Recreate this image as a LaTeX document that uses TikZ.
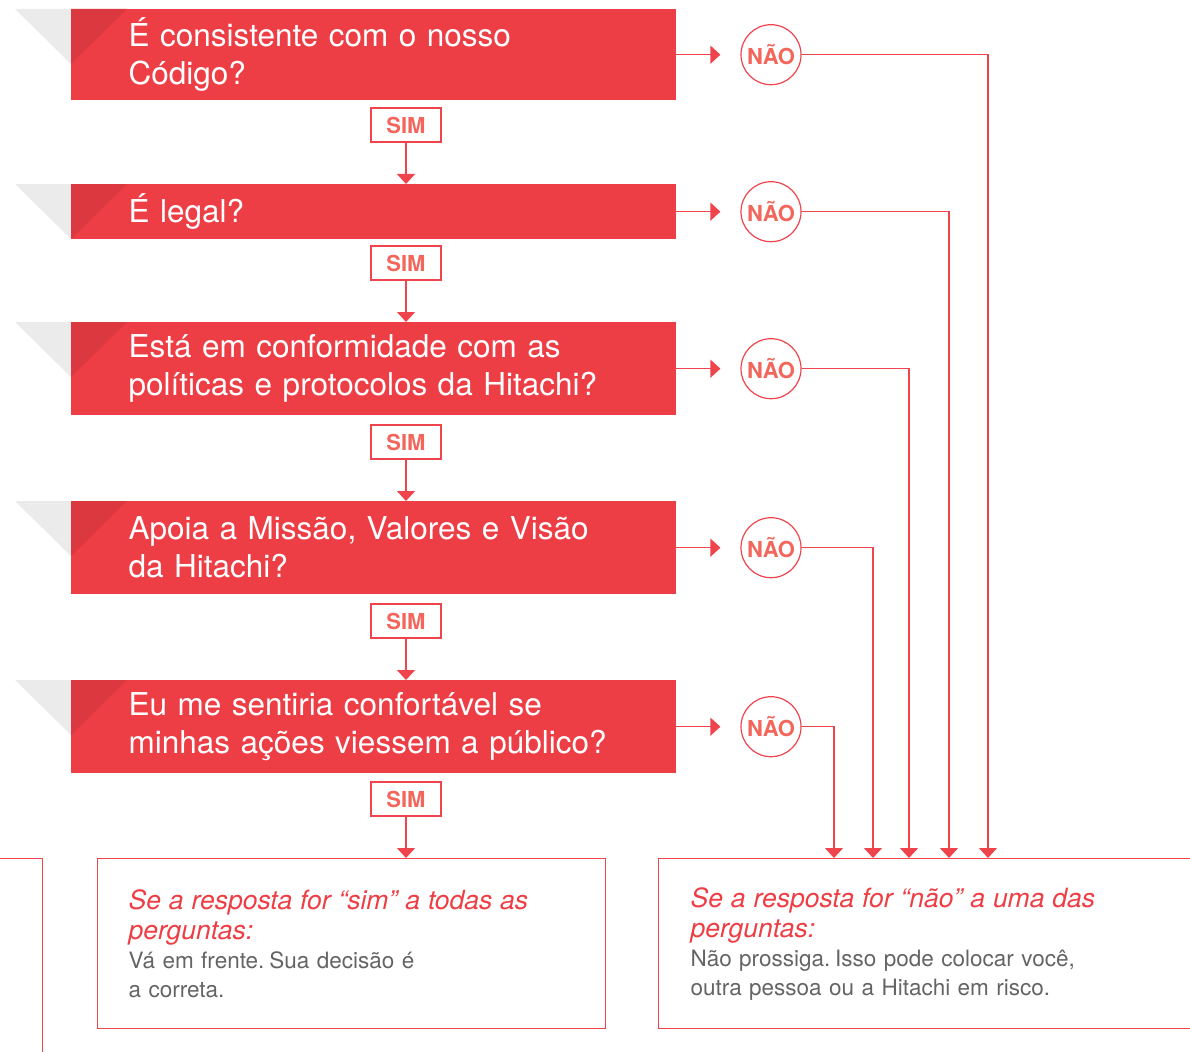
\documentclass[tikz,border=0pt]{standalone}
\usepackage{fontspec}
\setmainfont{TeX Gyre Heros}
\usetikzlibrary{positioning,arrows.meta}
\definecolor{qred}{RGB}{238,62,69}
\definecolor{qdark}{RGB}{219,56,64}
\definecolor{qgray}{RGB}{235,235,235}
\definecolor{linered}{RGB}{239,68,76}
\definecolor{simtext}{RGB}{242,102,92}
\definecolor{bodygray}{RGB}{100,100,100}
\newcommand{\headfont}{\color{qred}\itshape\fontsize{26.5}{30}\selectfont\spaceskip=0.3em plus 0.1em\relax}
\newcommand{\bodyfont}{\color{bodygray}\fontsize{22.5}{29}\selectfont\spaceskip=0.33em plus 0.1em\relax}

\begin{document}
\begin{tikzpicture}[x=1pt, y=-1pt,
  qbox/.style={fill=qred, text=white, anchor=north west, minimum width=605pt,
    inner xsep=57.5pt, text width=490pt, align=left, font=\fontsize{31.5}{38}\selectfont},
  simbox/.style={draw=linered, line width=1.2pt, text=simtext, inner sep=0pt,
    minimum width=70pt, minimum height=34pt, font=\fontsize{22}{22}\selectfont\bfseries},
  nao/.style={circle, draw=linered, line width=1.2pt, text=simtext, inner sep=0pt,
    minimum size=60pt, font=\fontsize{22}{22}\selectfont\bfseries},
  endbox/.style={draw=linered, line width=1.2pt, anchor=north west, minimum height=170pt, align=left},
  arr/.style={draw=linered, line width=1.2pt, -{Triangle[width=18pt,length=10pt]}},
]
\clip (0,0) rectangle (1190,1051);

% questions
\node[qbox, minimum height=91pt] (q1) at (71,9) {É consistente com o nosso\\Código?};
\node[qbox, minimum height=55pt] (q2) at (71,184) {É legal?};
\node[qbox, minimum height=93pt] (q3) at (71,322) {Está em conformidade com as\\políticas e protocolos da Hitachi?};
\node[qbox, minimum height=93pt] (q4) at (71,501) {Apoia a Missão, Valores e Visão\\da Hitachi?};
\node[qbox, minimum height=93pt] (q5) at (71,680) {Eu me sentiria confortável se\\minhas ações viessem a público?};
\foreach \q in {q1,q2,q3,q4,q5} {
  \fill[qgray] (\q.north west) -- ++(-56,0) -- ++(56,55) -- cycle;
  \fill[qdark] (\q.north west) -- ++(56,0) -- ++(-56,55) -- cycle;
}

% answer boxes
\node[endbox, anchor=north east, minimum width=200pt, minimum height=230pt] (prevbox) at (43,858) {};
\node[endbox, minimum width=508pt, inner xsep=31pt, text width=446pt] (yesbox) at (97,858)
  {{\headfont Se a resposta for “sim” a todas as\\perguntas:\par}
   {\bodyfont Vá em frente. Sua decisão é\\a correta.\par}};
\node[endbox, minimum width=600pt, inner xsep=32pt, text width=536pt] (nobox) at (658,858)
  {{\headfont Se a resposta for “não” a uma das\\perguntas:\par}
   {\bodyfont Não prossiga. Isso pode colocar você,\\outra pessoa ou a Hitachi em risco.\par}};

% sim
\node[simbox] (s1) at (406,125) {SIM};
\node[simbox] (s2) at (406,263) {SIM};
\node[simbox] (s3) at (406,442) {SIM};
\node[simbox] (s4) at (406,621) {SIM};
\node[simbox] (s5) at (406,799) {SIM};
\draw[arr] (s1.south) -- (s1.south |- q2.north);
\draw[arr] (s2.south) -- (s2.south |- q3.north);
\draw[arr] (s3.south) -- (s3.south |- q4.north);
\draw[arr] (s4.south) -- (s4.south |- q5.north);
\draw[arr] (s5.south) -- (s5.south |- yesbox.north);

% nao
\foreach \i/\dx in {1/330,2/291,3/251,4/215,5/176} {
  \node[nao, right=64pt of q\i] (n\i) {NÃO};
  \draw[arr] (q\i.east) -- ([xshift=-20pt]n\i.west);
  \draw[arr] (n\i.east) -| ([xshift=\dx pt]nobox.north west);
}
\end{tikzpicture}
\end{document}
